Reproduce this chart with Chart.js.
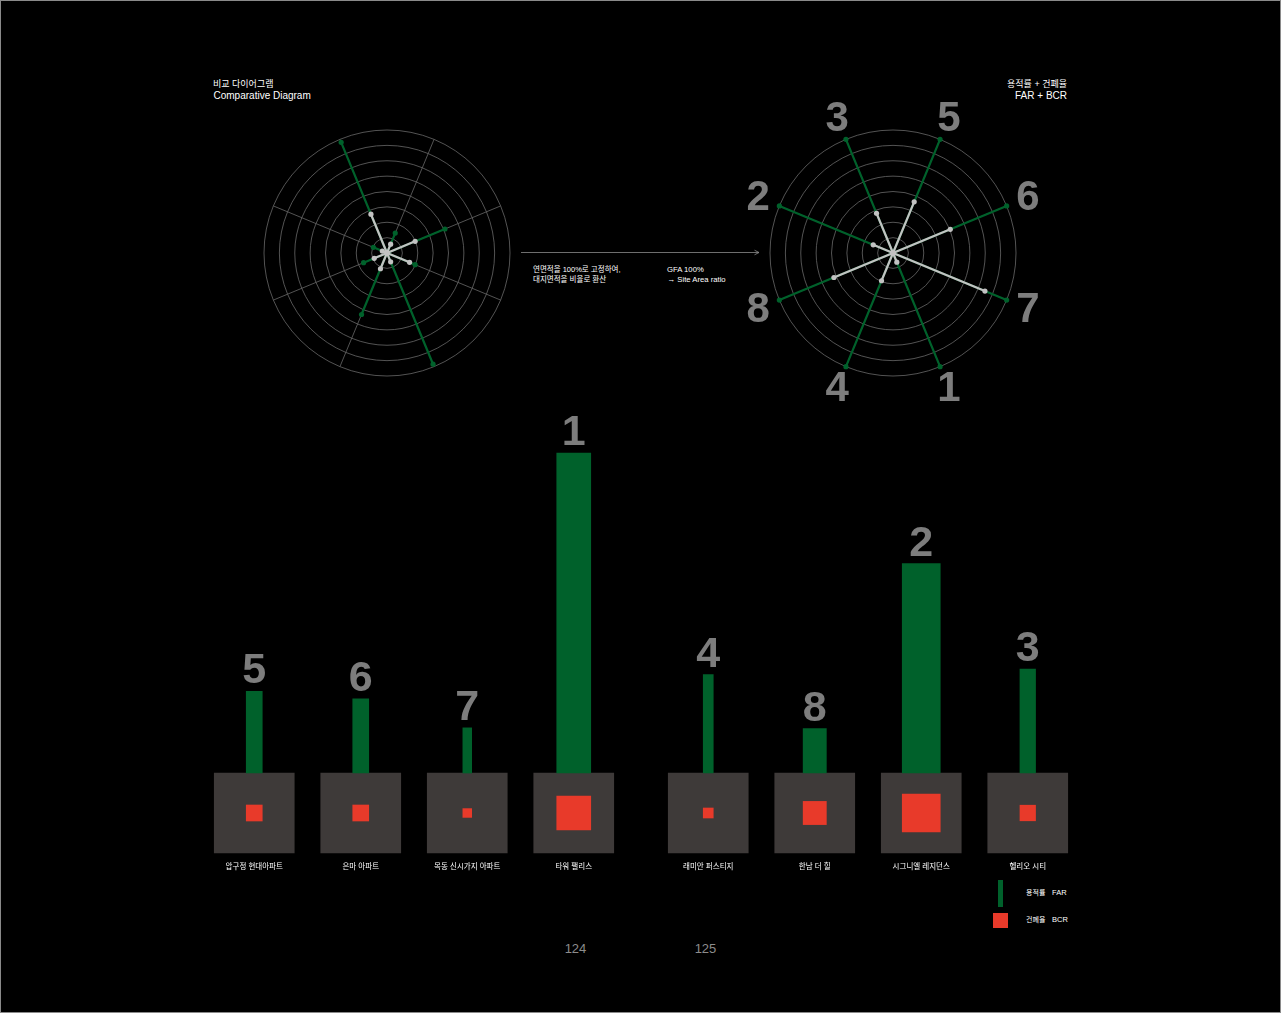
<!DOCTYPE html>
<html><head><meta charset="utf-8">
<script src="https://cdn.jsdelivr.net/npm/chart.js@4.4.1/dist/chart.umd.min.js"></script>
<style>
html,body{margin:0;padding:0;background:#000;}
body{width:1281px;height:1013px;position:relative;overflow:hidden;font-family:'Liberation Sans','Noto Sans CJK KR',sans-serif;color:#fff;}
.frame{position:absolute;left:0;top:0;width:1281px;height:1013px;box-sizing:border-box;border:1px solid #8a8a8a;}
canvas{position:absolute;}
.t{position:absolute;white-space:nowrap;}
</style></head><body>
<div class="frame"></div>

<div class="t" style="left:213px;top:78px;font-size:9px;line-height:12px;">비교 다이어그램</div>
<div class="t" style="left:213.5px;top:90px;font-size:10px;line-height:12px;">Comparative Diagram</div>
<div class="t" style="right:214px;top:78px;font-size:9px;line-height:12px;text-align:right;">용적률 + 건폐율</div>
<div class="t" style="right:214px;top:90px;font-size:10px;line-height:12px;text-align:right;">FAR + BCR</div>

<svg style="position:absolute;left:515px;top:245px" width="250" height="15">
  <line x1="6" y1="7.5" x2="244" y2="7.5" stroke="#8a8a8a" stroke-width="0.8"/>
  <polyline points="239.5,5.2 244,7.5 239.5,9.8" fill="none" stroke="#8a8a8a" stroke-width="0.8"/>
</svg>
<div class="t" style="left:533px;top:265px;font-size:7.5px;line-height:9px;">연면적을 100%로 고정하여,</div>
<div class="t" style="left:533px;top:275px;font-size:7.5px;line-height:9px;">대지면적을 비율로 환산</div>
<div class="t" style="left:667px;top:265px;font-size:7.7px;line-height:9px;">GFA 100%</div>
<div class="t" style="left:667.5px;top:275px;font-size:7.7px;line-height:9px;">→ Site Area ratio</div>

<div style="position:absolute;left:998px;top:880px;width:5px;height:27px;background:#00612b;"></div>
<div class="t" style="left:1026px;top:888px;font-size:7px;line-height:9px;">용적률</div>
<div class="t" style="left:1052px;top:888px;font-size:7.5px;line-height:9px;">FAR</div>
<div style="position:absolute;left:993px;top:913px;width:15px;height:15px;background:#e83a2a;"></div>
<div class="t" style="left:1026px;top:914.5px;font-size:7px;line-height:9px;">건폐율</div>
<div class="t" style="left:1052px;top:914.5px;font-size:7.5px;line-height:9px;">BCR</div>

<div class="t" style="left:545px;width:61px;text-align:center;top:941px;font-size:13px;line-height:15px;color:#8c8c8c;">124</div>
<div class="t" style="left:675px;width:61px;text-align:center;top:941px;font-size:13px;line-height:15px;color:#8c8c8c;">125</div>

<canvas id="radarL" width="266" height="266" style="left:254px;top:120px"></canvas>
<canvas id="radarR" width="346" height="346" style="left:720px;top:80px"></canvas>
<canvas id="barsL" width="426" height="510" style="left:201px;top:380px"></canvas>
<canvas id="barsR" width="426" height="510" style="left:655px;top:380px"></canvas>

<script>
// ---- data ----
const buildings = ['압구정 현대아파트','은마 아파트','목동 신시가지 아파트','타워 팰리스','래미안 퍼스티지','한남 더 힐','시그니엘 레지던스','헬리오 시티'];
const ranks = [5, 6, 7, 1, 4, 8, 2, 3];
const farPct = [233, 212, 129, 914, 281, 127, 598, 297];          // FAR (%), bar heights
const bcrSide = [20, 20, 11, 42.5, 12.5, 29, 47.5, 19.5];        // footprint side, % of site side
const gfaRel = [1.40, 4.08, 1.98, 7.83, 4.33, 1.65, 0.96, 7.79]; // comparative diagram: GFA
const siteRel = [0.62, 1.98, 1.59, 0.62, 1.11, 0.90, 0.33, 2.73]; // comparative diagram: site area
const gfaFixed = [100, 100, 100, 100, 100, 100, 100, 100];        // GFA fixed at 100%
const siteRatio = [45, 50.4, 80.9, 8.1, 24.4, 52, 17.4, 35];     // site area ratio (%)
const leftPage = [0, 1, 2, 3];
const rightPage = [4, 5, 6, 7];

// ---- styles ----
const GREEN = '#00612b', RED = '#e83a2a', SQUARE = '#3e3a39', LIGHT = '#c2c2c2', RANK = '#7d7d7d', GRID = '#686868';
const FONT = "'Liberation Sans','Noto Sans CJK KR',sans-serif";
Chart.defaults.font.family = FONT;
Chart.defaults.animation = false;

const spokes = v => v.flatMap(x => [x, 0]);
const spokeLabels = buildings.flatMap(b => [b, '']);

const radarRankPlugin = {
  id: 'radarRanks',
  afterDraw(chart) {
    const s = chart.scales.r, c = chart.ctx;
    c.save();
    c.font = "bold 42px 'Liberation Sans', sans-serif";
    c.fillStyle = RANK; c.textAlign = 'center'; c.textBaseline = 'alphabetic';
    ranks.forEach((rk, i) => {
      const p = s.getPointPosition(i * 2, s.drawingArea + 23);
      c.fillText(String(rk), p.x, p.y + 13);
    });
    c.restore();
  }
};

function radarConfig(gfa, site, max, pad, withRanks) {
  const pr = ctx => (ctx.dataIndex % 2 ? 0 : 2.6);
  const common = { borderWidth: 2.2, pointRadius: pr, pointHoverRadius: pr, pointBorderWidth: 0, fill: false, borderJoinStyle: 'bevel', clip: false };
  return {
    type: 'radar',
    data: {
      labels: spokeLabels,
      datasets: [
        Object.assign({ label: 'site', data: spokes(site), borderColor: LIGHT, backgroundColor: LIGHT, pointBackgroundColor: LIGHT }, common),
        Object.assign({ label: 'gfa', data: spokes(gfa), borderColor: GREEN, backgroundColor: GREEN, pointBackgroundColor: GREEN }, common)
      ]
    },
    options: {
      responsive: false, animation: false, events: [],
      layout: { padding: pad },
      plugins: { legend: { display: false }, tooltip: { enabled: false } },
      scales: {
        r: {
          min: 0, max: max, startAngle: 22.5,
          ticks: { display: false, stepSize: max / 8 },
          pointLabels: { display: false },
          grid: { circular: true, color: GRID, lineWidth: 0.8 },
          angleLines: { display: true, color: c => (c.index % 2 === 0 ? GRID : 'transparent'), lineWidth: 0.8 }
        }
      }
    },
    plugins: withRanks ? [radarRankPlugin] : []
  };
}

new Chart(document.getElementById('radarL'), radarConfig(gfaRel, siteRel, 8, 10, false));
new Chart(document.getElementById('radarR'), radarConfig(gfaFixed, siteRatio, 100, 50, true));

// ---- bottom charts ----
const PLOT_H = 480;        // chart area height
const BASE_FROM_TOP = 393; // baseline position inside chart area
const FAR_PX = 0.35;       // px per FAR %
const SITE_PX = 80;        // px per 100% of site side

const barRankPlugin = {
  id: 'barRanks',
  afterDatasetsDraw(chart) {
    const c = chart.ctx;
    c.save();
    c.font = "bold 43px 'Liberation Sans', sans-serif";
    c.fillStyle = RANK; c.textAlign = 'center'; c.textBaseline = 'alphabetic';
    chart.data.datasets.forEach((ds, di) => {
      if (ds.label !== 'FAR') return;
      const meta = chart.getDatasetMeta(di);
      ds.data.forEach((v, j) => {
        if (v == null) return;
        const el = meta.data[j];
        c.fillText(String(ds.rank), el.x, el.y - 8);
      });
    });
    c.restore();
  }
};

function barConfig(idx) {
  const datasets = [{
    label: 'site', yAxisID: 'ys', data: idx.map(() => [-100, 0]), backgroundColor: SQUARE,
    barThickness: SITE_PX, maxBarThickness: SITE_PX, grouped: false, order: 3, borderWidth: 0
  }];
  idx.forEach((b, k) => {
    const w = SITE_PX * bcrSide[b] / 100;
    datasets.push({
      label: 'BCR', yAxisID: 'ys',
      data: idx.map((_, j) => (j === k ? [-50 - bcrSide[b] / 2, -50 + bcrSide[b] / 2] : null)),
      backgroundColor: RED, barThickness: w, maxBarThickness: w, grouped: false, order: 1, borderWidth: 0
    });
    datasets.push({
      label: 'FAR', yAxisID: 'y', rank: ranks[b],
      data: idx.map((_, j) => (j === k ? farPct[b] : null)),
      backgroundColor: GREEN, barThickness: w, maxBarThickness: w, grouped: false, order: 2, borderWidth: 0
    });
  });
  return {
    type: 'bar',
    data: { labels: idx.map(i => buildings[i]), datasets },
    options: {
      responsive: false, animation: false, events: [],
      layout: { padding: 0 },
      plugins: { legend: { display: false }, tooltip: { enabled: false } },
      scales: {
        x: {
          grid: { display: false, drawTicks: false }, border: { display: false },
          ticks: { color: '#ffffff', font: { size: 7.5, family: FONT }, padding: 2, autoSkip: false, maxRotation: 0 },
          afterFit: s => { s.height = 30; }
        },
        y: { type: 'linear', display: false, min: -(PLOT_H - BASE_FROM_TOP) / FAR_PX, max: BASE_FROM_TOP / FAR_PX },
        ys: { type: 'linear', axis: 'y', display: false, min: -(PLOT_H - BASE_FROM_TOP) / SITE_PX * 100, max: BASE_FROM_TOP / SITE_PX * 100 }
      }
    },
    plugins: [barRankPlugin]
  };
}

new Chart(document.getElementById('barsL'), barConfig(leftPage));
new Chart(document.getElementById('barsR'), barConfig(rightPage));
</script>
</body></html>
